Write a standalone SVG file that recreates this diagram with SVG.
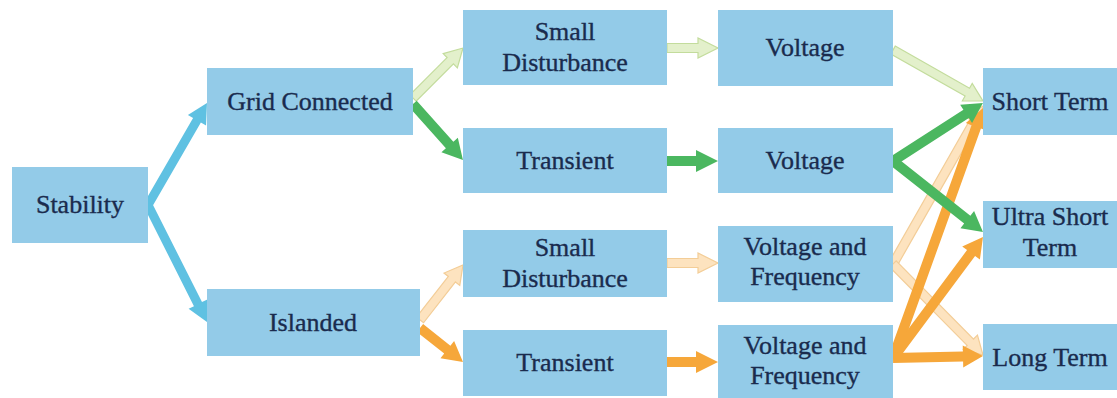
<svg xmlns="http://www.w3.org/2000/svg" width="1117" height="398" viewBox="0 0 1117 398" font-family="Liberation Serif, DejaVu Serif, serif">
  <style>
    .box { fill: #93cbe8; }
    .lbl { font-size: 26px; fill: #1a2b4e; stroke: #1a2b4e; stroke-width: 0.35; text-anchor: middle; }
    .blue { fill: #5fc1e2; }
    .green { fill: #4bb760; }
    .lgreen { fill: #e3f0cb; stroke: #c3dc9c; stroke-width: 1.2; }
    .orange { fill: #f6a73a; }
    .lorange { fill: #fde3bf; stroke: #f3cd97; stroke-width: 1.2; }
  </style>
  <rect width="1117" height="398" fill="#ffffff"/>

  <!-- block arrows: each drawn along +x from its tail, then rotated into place -->
  <g id="connectors">
    <!-- Stability to the two operating modes -->
    <path class="blue" transform="translate(148,205) rotate(-59.95)" d="M0,-4.5 H97.8 V-10.5 L117.8,0 L97.8,10.5 V4.5 H0 Z"/>
    <path class="blue" transform="translate(148,205) rotate(63.24)" d="M0,-4.5 H111 V-10.5 L131,0 L111,10.5 V4.5 H0 Z"/>

    <!-- Grid Connected branches -->
    <path class="lgreen" transform="translate(413,98) rotate(-45)" d="M0,-4.5 H52.7 V-10 L70.7,0 L52.7,10 V4.5 H0 Z"/>
    <path class="green" transform="translate(413,104) rotate(48.24)" d="M0,-5 H55 V-11 L75,0 L55,11 V5 H0 Z"/>

    <!-- Islanded branches -->
    <path class="lorange" transform="translate(420,320) rotate(-51.98)" d="M0,-4.5 H51.8 V-10 L69.8,0 L51.8,10 V4.5 H0 Z"/>
    <path class="orange" transform="translate(420,328) rotate(38.33)" d="M0,-5 H34.8 V-11 L54.8,0 L34.8,11 V5 H0 Z"/>

    <!-- middle column to variables -->
    <path class="lgreen" transform="translate(667,48)" d="M0,-4.5 H31 V-10 L51,0 L31,10 V4.5 H0 Z"/>
    <path class="green" transform="translate(667,161)" d="M0,-5 H29 V-11 L51,0 L29,11 V5 H0 Z"/>
    <path class="lorange" transform="translate(667,263)" d="M0,-4.5 H31 V-10 L51,0 L31,10 V4.5 H0 Z"/>
    <path class="orange" transform="translate(667,362)" d="M0,-5 H29 V-11 L51,0 L29,11 V5 H0 Z"/>

    <!-- variables to time frames -->
    <path class="lgreen" transform="translate(893,50) rotate(29.54)" d="M0,-4.5 H85.4 V-10 L103.4,0 L85.4,10 V4.5 H0 Z"/>
    <path class="lorange" transform="translate(893,264) rotate(-60.33)" d="M0,-4.5 H163.8 V-10 L181.8,0 L163.8,10 V4.5 H0 Z"/>
    <path class="lorange" transform="translate(893,264) rotate(45.32)" d="M0,-4.5 H110 V-10 L128,0 L110,10 V4.5 H0 Z"/>
    <path class="orange" transform="translate(893,358) rotate(-70.2)" d="M0,-5 H245.7 V-11 L265.7,0 L245.7,11 V5 H0 Z"/>
    <path class="orange" transform="translate(893,358) rotate(-53.36)" d="M0,-5 H130.8 V-11 L150.8,0 L130.8,11 V5 H0 Z"/>
    <path class="orange" transform="translate(893,358) rotate(-1.27)" d="M0,-5 H70 V-11 L90,0 L70,11 V5 H0 Z"/>
    <path class="green" transform="translate(893,161) rotate(-32.8)" d="M0,-5 H87 V-11 L107,0 L87,11 V5 H0 Z"/>
    <path class="green" transform="translate(893,161) rotate(38.27)" d="M0,-5 H94.6 V-11 L114.6,0 L94.6,11 V5 H0 Z"/>
  </g>

  <g id="stability">
    <rect class="box" x="12" y="167" width="136" height="76"/>
    <text class="lbl" x="80" y="213">Stability</text>
  </g>

  <g id="grid-connected">
    <rect class="box" x="207" y="68" width="206" height="67"/>
    <text class="lbl" x="310" y="110">Grid Connected</text>
  </g>

  <g id="islanded">
    <rect class="box" x="207" y="289" width="213" height="67"/>
    <text class="lbl" x="313" y="331">Islanded</text>
  </g>

  <g id="gc-small-disturbance">
    <rect class="box" x="463" y="10" width="204" height="75"/>
    <text class="lbl" x="565" y="40">Small</text>
    <text class="lbl" x="565" y="71">Disturbance</text>
  </g>

  <g id="gc-transient">
    <rect class="box" x="463" y="128" width="204" height="65"/>
    <text class="lbl" x="565" y="169">Transient</text>
  </g>

  <g id="is-small-disturbance">
    <rect class="box" x="463" y="230" width="204" height="67"/>
    <text class="lbl" x="565" y="256">Small</text>
    <text class="lbl" x="565" y="287">Disturbance</text>
  </g>

  <g id="is-transient">
    <rect class="box" x="463" y="330" width="204" height="66"/>
    <text class="lbl" x="565" y="371">Transient</text>
  </g>

  <g id="voltage-small">
    <rect class="box" x="718" y="10" width="175" height="76"/>
    <text class="lbl" x="805" y="56">Voltage</text>
  </g>

  <g id="voltage-transient">
    <rect class="box" x="718" y="128" width="175" height="65"/>
    <text class="lbl" x="805" y="169">Voltage</text>
  </g>

  <g id="vf-small">
    <rect class="box" x="718" y="226" width="175" height="76"/>
    <text class="lbl" x="805" y="255">Voltage and</text>
    <text class="lbl" x="805" y="285">Frequency</text>
  </g>

  <g id="vf-transient">
    <rect class="box" x="718" y="325" width="175" height="76"/>
    <text class="lbl" x="805" y="354">Voltage and</text>
    <text class="lbl" x="805" y="384">Frequency</text>
  </g>

  <g id="short-term">
    <rect class="box" x="983" y="68" width="140" height="67"/>
    <text class="lbl" x="1050" y="110">Short Term</text>
  </g>

  <g id="ultra-short-term">
    <rect class="box" x="983" y="201" width="140" height="67"/>
    <text class="lbl" x="1050" y="225">Ultra Short</text>
    <text class="lbl" x="1050" y="256">Term</text>
  </g>

  <g id="long-term">
    <rect class="box" x="983" y="324" width="140" height="66"/>
    <text class="lbl" x="1050" y="366">Long Term</text>
  </g>
</svg>
